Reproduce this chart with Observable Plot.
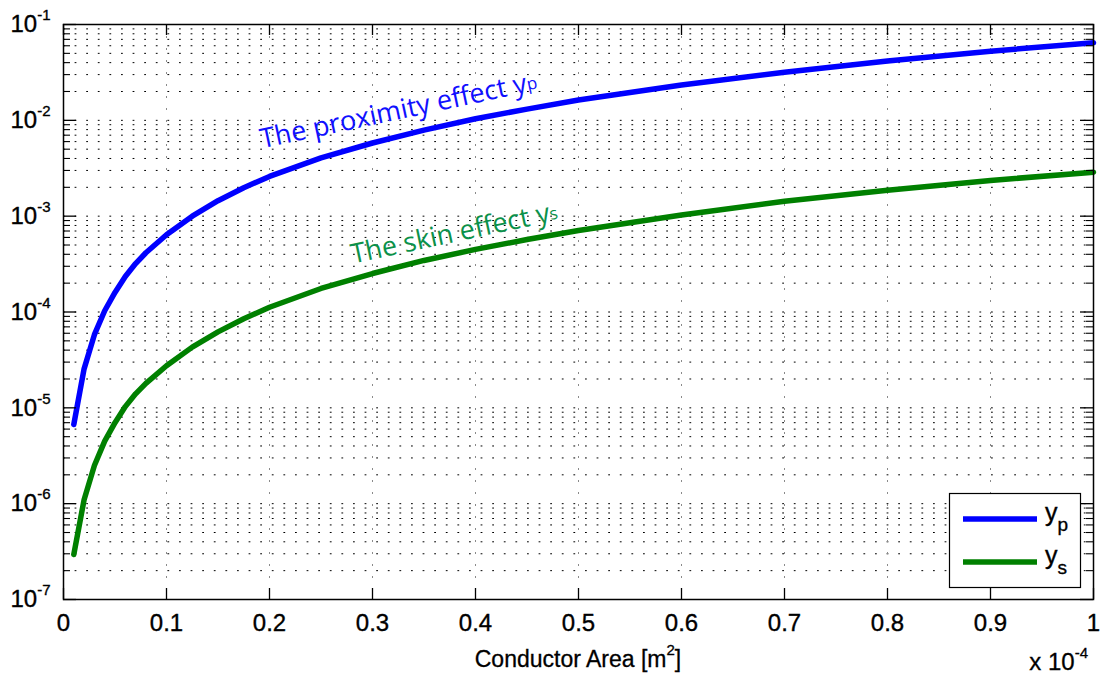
<!DOCTYPE html>
<html>
<head>
<meta charset="utf-8">
<script src="https://cdn.jsdelivr.net/npm/d3@7"></script>
<script src="https://cdn.jsdelivr.net/npm/@observablehq/plot@0.6"></script>
<style>
html, body { margin: 0; padding: 0; background: #fff; }
#wrap { width: 1101px; height: 675px; }
</style>
</head>
<body>
<div id="wrap"></div>
<script>
// ---- data ----
const area = [0.01, 0.02, 0.03, 0.04, 0.05, 0.06, 0.07, 0.08, 0.10, 0.125, 0.15, 0.175, 0.20, 0.25, 0.30, 0.35, 0.40, 0.45, 0.50, 0.60, 0.70, 0.80, 0.90, 1.00];
const proximityEffect = [6.7e-6, 2.55e-5, 5.8e-5, 1.03e-4, 1.6e-4, 2.35e-4, 3.2e-4, 4.15e-4, 6.4e-4, 1.0e-3, 1.45e-3, 1.98e-3, 2.6e-3, 4.05e-3, 5.8e-3, 7.9e-3, 1.04e-2, 1.31e-2, 1.63e-2, 2.34e-2, 3.18e-2, 4.16e-2, 5.27e-2, 6.45e-2];
const skinEffect = [2.95e-7, 1.1e-6, 2.5e-6, 4.5e-6, 7.0e-6, 1.03e-5, 1.4e-5, 1.8e-5, 2.75e-5, 4.3e-5, 6.2e-5, 8.5e-5, 1.12e-4, 1.76e-4, 2.52e-4, 3.45e-4, 4.5e-4, 5.7e-4, 7.1e-4, 1.03e-3, 1.43e-3, 1.86e-3, 2.36e-3, 2.88e-3];

const xTicks = [0, 0.1, 0.2, 0.3, 0.4, 0.5, 0.6, 0.7, 0.8, 0.9, 1];
const xTickLabels = ["0", "0.1", "0.2", "0.3", "0.4", "0.5", "0.6", "0.7", "0.8", "0.9", "1"];
const xGridTicks = [0.1, 0.2, 0.3, 0.4, 0.5, 0.6, 0.7, 0.8, 0.9];
const yDecades = [1e-7, 1e-6, 1e-5, 1e-4, 1e-3, 1e-2, 1e-1];
const yExponents = ["-7", "-6", "-5", "-4", "-3", "-2", "-1"];
const yMinorMultipliers = [2, 3, 4, 5, 6, 7, 8, 9];
const yMinor = yDecades.slice(0, -1).flatMap(d => yMinorMultipliers.map(m => m * d));
const yGrid = yDecades.concat(yMinor);

const xLabel = "Conductor Area [m";
const xLabelSup = "2";
const xMultiplier = "x 10";
const xMultiplierExp = "-4";

const seriesNames = ["y", "y"];
const seriesSubs = ["p", "s"];
const seriesColors = ["#0000ff", "#008000"];

const annotations = [
  {x: 0.193, y: 5.1e-3, text: "The proximity effect y", sub: "p", color: "#1010ff"},
  {x: 0.281, y: 3.2e-4, text: "The skin effect y", sub: "s", color: "#0b914a"}
];

// ---- layout ----
const W = 1101, H = 675, ML = 63, MT = 24, MR = 8, MB = 76;
const PW = W - ML - MR, PH = H - MT - MB;
const FONT = '"Liberation Sans", Arial, Helvetica, sans-serif';
const ANN_FONT = '"Open Sans", "Noto Sans", sans-serif';

const rows = area.map((a, i) => ({a, yp: proximityEffect[i], ys: skinEffect[i]}));

const chart = Plot.plot({
  width: W, height: H,
  marginLeft: ML, marginTop: MT, marginRight: MR, marginBottom: MB,
  style: {fontFamily: FONT, fontSize: "24px", background: "#fff", color: "#000"},
  x: {domain: [0, 1]},
  y: {type: "log", domain: [1e-7, 1e-1]},
  marks: [
    Plot.gridY(yGrid, {stroke: "#000", strokeOpacity: 1, strokeWidth: 1, strokeDasharray: "1.8,9.8"}),
    Plot.gridX(xGridTicks, {stroke: "#8a8a8a", strokeOpacity: 1, strokeWidth: 1, strokeDasharray: "2,10"}),
    Plot.line(rows, {x: "a", y: "yp", stroke: seriesColors[0], strokeWidth: 5.5, strokeLinejoin: "round"}),
    Plot.line(rows, {x: "a", y: "ys", stroke: seriesColors[1], strokeWidth: 5.5, strokeLinejoin: "round"}),
    // inward ticks
    Plot.tickY(yDecades, {y: d => d, insetRight: PW - 13, stroke: "#000", strokeWidth: 1.3}),
    Plot.tickY(yDecades, {y: d => d, insetLeft: PW - 13, stroke: "#000", strokeWidth: 1.3}),
    Plot.tickY(yMinor, {y: d => d, insetRight: PW - 7, stroke: "#000", strokeWidth: 1.1}),
    Plot.tickY(yMinor, {y: d => d, insetLeft: PW - 7, stroke: "#000", strokeWidth: 1.1}),
    Plot.tickX(xTicks, {x: d => d, insetTop: PH - 11, stroke: "#000", strokeWidth: 1.3}),
    Plot.tickX(xTicks, {x: d => d, insetBottom: PH - 11, stroke: "#000", strokeWidth: 1.3}),
    Plot.frame({stroke: "#000", strokeWidth: 1.5}),
    Plot.axisY(yDecades, {tickSize: 0, tickPadding: 13, fontSize: 24, label: null,
      tickFormat: d => "10^" + yExponents[yDecades.indexOf(d)]}),
    Plot.axisX(xTicks, {tickSize: 0, tickPadding: 14, fontSize: 24, label: null,
      tickFormat: d => xTickLabels[xTicks.indexOf(d)]}),
    Plot.text([annotations[0]], {x: "x", y: "y", text: "text", rotate: -12, textAnchor: "start", lineAnchor: "bottom",
      fill: annotations[0].color, fontSize: 27, fontFamily: ANN_FONT}),
    Plot.text([annotations[1]], {x: "x", y: "y", text: "text", rotate: -12, textAnchor: "start", lineAnchor: "bottom",
      fill: annotations[1].color, fontSize: 27, fontFamily: ANN_FONT})
  ]
});

const svg = d3.select(chart);

// superscript exponents on y tick labels
svg.selectAll('g[aria-label="y-axis tick label"] text').each(function() {
  const s = this.textContent;
  const exp = s.split("^")[1];
  const t = d3.select(this);
  t.text(null);
  t.append("tspan").text("10");
  t.append("tspan").attr("dy", -12).attr("font-size", 15).text(exp);
});
svg.selectAll('g[aria-label="y-axis tick label"] text, g[aria-label="x-axis tick label"] text')
  .attr("stroke", "#000").attr("stroke-width", 0.35);

// subscripts on the annotations
svg.selectAll('g[aria-label="text"] text').each(function(d, i) {
  d3.select(this).append("tspan").attr("font-size", 17).attr("dy", -1.5).text(annotations[i].sub);
});

// x axis label
const xl = svg.append("text")
  .attr("x", ML + PW / 2).attr("y", 667)
  .attr("text-anchor", "middle").attr("font-family", FONT).attr("font-size", 23).attr("fill", "#000")
  .attr("stroke", "#000").attr("stroke-width", 0.3);
xl.append("tspan").text(xLabel);
xl.append("tspan").attr("dy", -12).attr("font-size", 15).text(xLabelSup);
xl.append("tspan").attr("dy", 12).text("]");

// x multiplier
const xm = svg.append("text")
  .attr("x", 1088).attr("y", 670)
  .attr("text-anchor", "end").attr("font-family", FONT).attr("font-size", 24).attr("fill", "#000")
  .attr("stroke", "#000").attr("stroke-width", 0.3);
xm.append("tspan").text(xMultiplier);
xm.append("tspan").attr("dy", -12).attr("font-size", 15).text(xMultiplierExp);

// legend
const lg = svg.append("g").attr("font-family", FONT).attr("text-anchor", "start");
lg.append("rect").attr("x", 949.5).attr("y", 493.5).attr("width", 131).attr("height", 94)
  .attr("fill", "#fff").attr("stroke", "#000").attr("stroke-width", 1.2);
const legendY = [519, 562];
seriesNames.forEach((n, i) => {
  lg.append("line").attr("x1", 963).attr("x2", 1037).attr("y1", legendY[i]).attr("y2", legendY[i])
    .attr("stroke", seriesColors[i]).attr("stroke-width", 5.5);
  const t = lg.append("text").attr("x", 1045).attr("y", legendY[i] + 2).attr("font-size", 25).attr("fill", "#000")
    .attr("text-anchor", "start").attr("stroke", "#000").attr("stroke-width", 0.35);
  t.append("tspan").text(n);
  t.append("tspan").attr("dy", 10).attr("font-size", 19).text(seriesSubs[i]);
});

document.getElementById("wrap").appendChild(chart);
</script>
</body>
</html>
